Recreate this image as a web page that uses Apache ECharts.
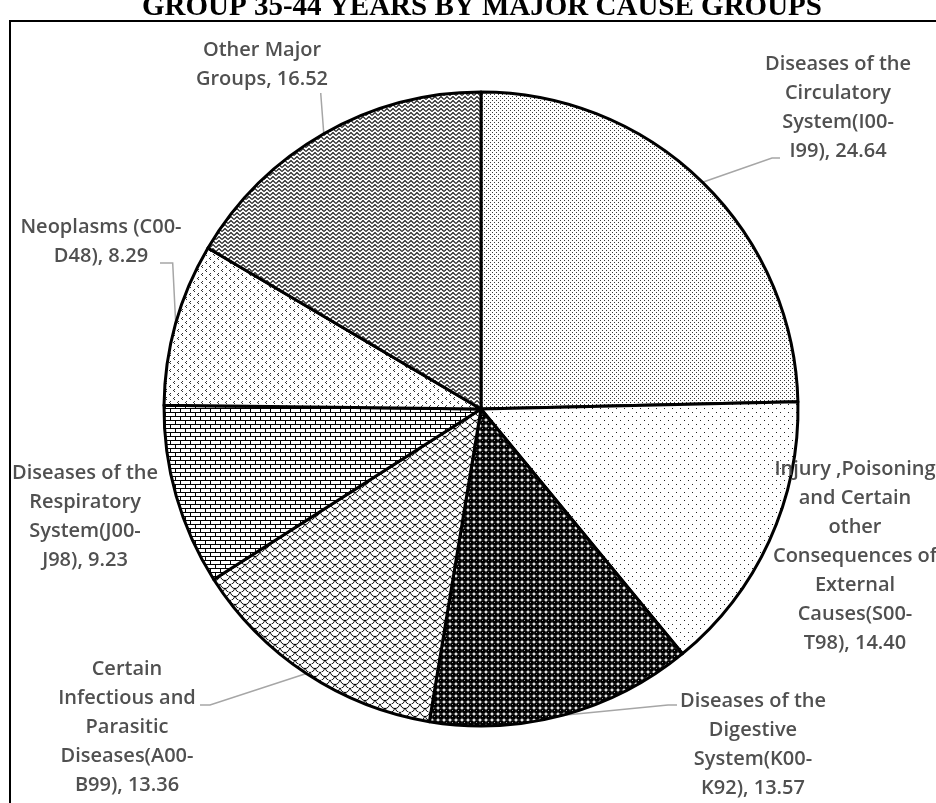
<!DOCTYPE html>
<html>
<head>
<meta charset="utf-8">
<script src="https://cdn.jsdelivr.net/npm/echarts@6/dist/echarts.min.js"></script>
<style>html,body{margin:0;padding:0;background:#fff;}#chart{width:936px;height:803px;}</style>
</head>
<body>
<div id="chart"></div>
<script>
// ---- data ----
const titleText = 'GROUP 35-44 YEARS BY MAJOR CAUSE GROUPS';
const categories = [
  'Diseases of the\nCirculatory\nSystem(I00-\nI99)',
  'Injury ,Poisoning\nand Certain\nother\nConsequences of\nExternal\nCauses(S00-\nT98)',
  'Diseases of the\nDigestive\nSystem(K00-\nK92)',
  'Certain\nInfectious and\nParasitic\nDiseases(A00-\nB99)',
  'Diseases of the\nRespiratory\nSystem(J00-\nJ98)',
  'Neoplasms (C00-\nD48)',
  'Other Major\nGroups'
];
const values = [24.64, 14.40, 13.57, 13.36, 9.23, 8.29, 16.52];

// ---- layout (label anchor points and leader-line bends; not data) ----
const labelPos = [[838,108],[855,556],[753,745],[127,727],[85,517],[101,242],[262,65]];
const leaderEnds = [
  [[772,158],[780,158]],
  null,
  [[668,705],[677,705]],
  [[210,705],[200,705]],
  null,
  'neo',
  'other'
];

// ---- patterns ----
function tile(w,h,draw){
  const c=document.createElement('canvas'); c.width=w; c.height=h;
  const g=c.getContext('2d'); g.fillStyle='#fff'; g.fillRect(0,0,w,h);
  draw(g); return {image:c, repeat:'repeat'};
}
const patterns = [
  // fine dots
  tile(4,4,g=>{g.fillStyle='#3a3a3a'; g.fillRect(0,0,1,1); g.fillRect(2,2,1,1);}),
  // sparse dots
  tile(8,8,g=>{g.fillStyle='#222'; g.fillRect(0,0,1,1); g.fillRect(4,4,1,1);}),
  // spheres
  tile(6,6,g=>{g.fillStyle='#000'; g.beginPath(); g.arc(3,3,3,0,Math.PI*2); g.fill(); g.fillStyle='#999'; g.fillRect(2,2,1,1);}),
  // shingles / scales
  tile(10,8,g=>{g.strokeStyle='#000'; g.lineWidth=1; g.beginPath(); g.arc(5,0,4.5,0,Math.PI); g.stroke(); g.beginPath(); g.arc(0,4,4.5,0,Math.PI); g.stroke(); g.beginPath(); g.arc(10,4,4.5,0,Math.PI); g.stroke();}),
  // horizontal brick
  tile(10,8,g=>{g.fillStyle='#000'; g.fillRect(0,0,10,1); g.fillRect(0,4,10,1); g.fillRect(0,0,1,4); g.fillRect(5,4,1,4);}),
  // small chevrons
  tile(8,8,g=>{g.fillStyle='#333'; [[1,1],[5,5]].forEach(([x,y])=>{g.fillRect(x+1,y,1,1); g.fillRect(x,y+1,1,1); g.fillRect(x+1,y+2,1,1);});}),
  // zigzag weave
  tile(6,4,g=>{g.strokeStyle='#222'; g.lineWidth=1.2; g.beginPath(); g.moveTo(0,3.5); g.lineTo(3,0.5); g.lineTo(6,3.5); g.stroke();})
];

const chart = echarts.init(document.getElementById('chart'), null, {renderer:'canvas'});
chart.setOption({
  animation:false,
  backgroundColor:'#fff',
  title:{text:titleText,left:137,top:-12,
    textStyle:{fontFamily:'Liberation Serif',fontWeight:'bold',fontSize:29,color:'#000'}},
  graphic:[{type:'rect',z:-10,shape:{x:10,y:21,width:1000,height:1000},style:{fill:'none',stroke:'#000',lineWidth:2}}],
  series:[{
    type:'pie',
    center:[481,409],
    radius:317,
    startAngle:90,
    clockwise:true,
    silent:true,
    emphasis:{disabled:true},
    itemStyle:{borderColor:'#000',borderWidth:3},
    label:{show:true,position:'outside',color:'#505050',fontFamily:'Open Sans',fontWeight:600,fontSize:20,lineHeight:29,
      align:'center',overflow:'none',
      formatter:p=>p.name+', '+p.value.toFixed(2)},
    labelLine:{show:true,lineStyle:{color:'#a6a6a6',width:1.5}},
    labelLayout:p=>{
      const i=p.dataIndex, pos=labelPos[i];
      const out={x:pos[0],y:pos[1],align:'center',verticalAlign:'middle'};
      const e=leaderEnds[i];
      const s=p.labelLinePoints ? p.labelLinePoints[0] : null;
      if(s && e){
        if(e==='neo') out.labelLinePoints=[s,[s[0]-3,263],[160,263]];
        else if(e==='other') out.labelLinePoints=[s,[s[0]-3,94],[s[0]-3,93]];
        else out.labelLinePoints=[s,e[0],e[1]];
      }
      return out;
    },
    data:categories.map((n,i)=>({name:n,value:values[i],itemStyle:{color:patterns[i]},labelLine:{show:leaderEnds[i]!==null}}))
  }]
});
</script>
</body>
</html>
